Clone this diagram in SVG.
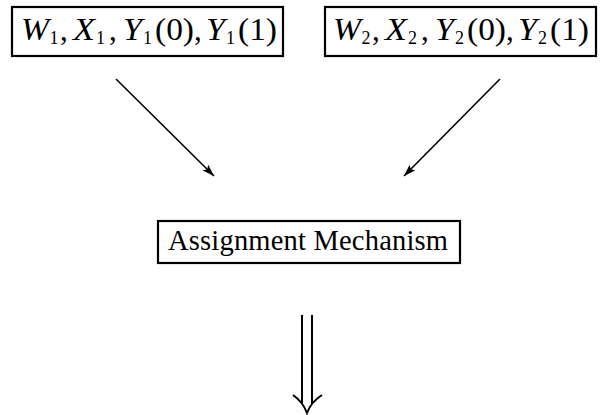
<svg xmlns="http://www.w3.org/2000/svg" width="601" height="415" viewBox="0 0 601 415">
<defs>
<style>
.box{fill:#fff;stroke:#000;stroke-width:2.2}
.m{font-family:"Liberation Serif","Times New Roman",serif;font-size:31px;fill:#000}
.t{font-family:"Liberation Serif","Times New Roman",serif;font-size:28.5px;fill:#000}
.i{font-style:italic}
.s{font-size:18px}
.ln{stroke:#000;stroke-width:1.6;fill:none}
.dl{stroke:#000;stroke-width:2;fill:none}
</style>
<marker id="ah" viewBox="0 0 12 10" refX="12" refY="5" markerWidth="12" markerHeight="10" markerUnits="userSpaceOnUse" orient="auto">
<path d="M0,1 L12,5 L0,9 L2.5,5 Z" fill="#000"/>
</marker>
</defs>
<g id="node1">
<rect class="box" x="12" y="7" width="271" height="49"/>
<text class="m" y="40"><tspan class="i" x="21" textLength="28" lengthAdjust="spacingAndGlyphs">W</tspan><tspan class="s" x="49.5" y="44">1</tspan><tspan x="60" y="40">,</tspan><tspan class="i" x="73" textLength="22" lengthAdjust="spacingAndGlyphs">X</tspan><tspan class="s" x="96" y="44">1</tspan><tspan x="109" y="40">,</tspan><tspan class="i" x="123" textLength="19" lengthAdjust="spacingAndGlyphs">Y</tspan><tspan class="s" x="143" y="44">1</tspan><tspan x="155" y="40" textLength="39" lengthAdjust="spacingAndGlyphs">(0)</tspan><tspan x="194">,</tspan><tspan class="i" x="206" textLength="19" lengthAdjust="spacingAndGlyphs">Y</tspan><tspan class="s" x="226" y="44">1</tspan><tspan x="238" y="40" textLength="39" lengthAdjust="spacingAndGlyphs">(1)</tspan></text>
</g>
<g id="node2">
<rect class="box" x="325" y="7" width="271" height="49"/>
<text class="m" y="40"><tspan class="i" x="333" textLength="28" lengthAdjust="spacingAndGlyphs">W</tspan><tspan class="s" x="361.5" y="44">2</tspan><tspan x="372" y="40">,</tspan><tspan class="i" x="385" textLength="22" lengthAdjust="spacingAndGlyphs">X</tspan><tspan class="s" x="408" y="44">2</tspan><tspan x="421" y="40">,</tspan><tspan class="i" x="435" textLength="19" lengthAdjust="spacingAndGlyphs">Y</tspan><tspan class="s" x="455" y="44">2</tspan><tspan x="467" y="40" textLength="39" lengthAdjust="spacingAndGlyphs">(0)</tspan><tspan x="506">,</tspan><tspan class="i" x="518" textLength="19" lengthAdjust="spacingAndGlyphs">Y</tspan><tspan class="s" x="538" y="44">2</tspan><tspan x="550" y="40" textLength="39" lengthAdjust="spacingAndGlyphs">(1)</tspan></text>
</g>
<g id="node3">
<rect class="box" x="158" y="221" width="302" height="42"/>
<text class="t" x="168" y="250" textLength="280" lengthAdjust="spacing">Assignment Mechanism</text>
</g>
<g id="connectors">
<line class="ln" x1="116" y1="79" x2="214" y2="176" marker-end="url(#ah)"/>
<line class="ln" x1="500" y1="79" x2="404" y2="176" marker-end="url(#ah)"/>
<line class="dl" x1="302" y1="315" x2="302" y2="404"/>
<line class="dl" x1="312" y1="315" x2="312" y2="404"/>
<path class="dl" d="M293,395 Q303,402 307,413 Q311,402 322,395"/>
</g>
</svg>
